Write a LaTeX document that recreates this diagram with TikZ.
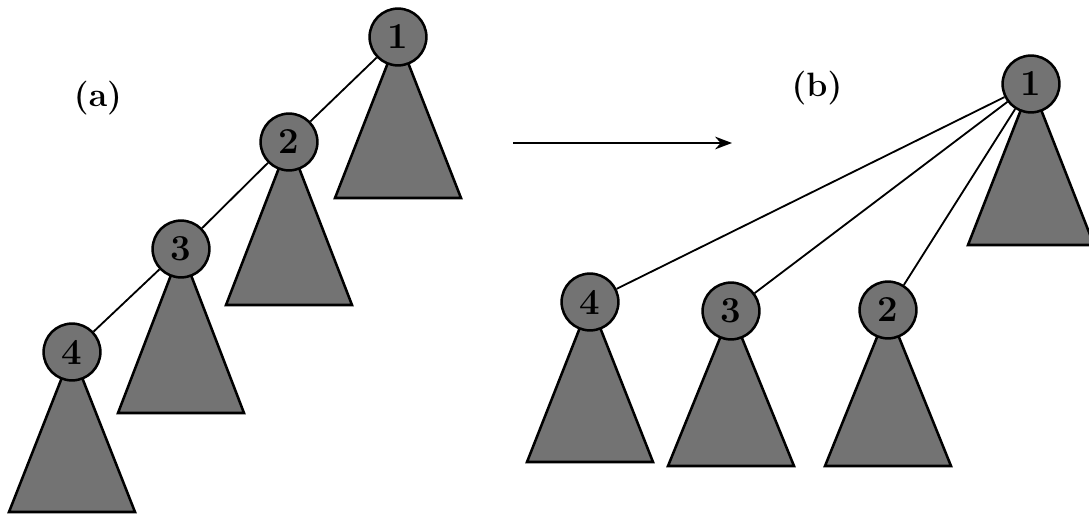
\documentclass[tikz,border=0pt]{standalone}
\usepackage{tikz}
\usetikzlibrary{arrows.meta, backgrounds}
\tikzset{
  vertex/.style={circle, minimum size=1.42cm, inner sep=0pt, draw=black, line width=1.8pt, fill=black!55, font=\fontsize{26}{30}\selectfont\bfseries},
  subtree/.style={draw=black, line width=1.8pt, fill=black!55, line join=miter},
  link/.style={line width=1.3pt},
  arrow/.style={line width=1.7pt,-{Stealth[length=12pt,width=9pt]}},
  caption/.style={font=\fontsize{24}{28}\selectfont\bfseries}
}

\begin{document}
\begin{tikzpicture}[x=0.025cm, y=-0.025cm]
\useasboundingbox (0,0) rectangle (1089,518);

% (a): the chain
\node[caption] (capa) at (98,98) {(a)};
\node[vertex] (a1) at (398,37) {1};
\node[vertex] (a2) at (289,142) {2};
\node[vertex] (a3) at (181,249) {3};
\node[vertex] (a4) at (72,352) {4};

\draw[link] (a1) -- (a2);
\draw[link] (a2) -- (a3);
\draw[link] (a3) -- (a4);

\node[caption] (capb) at (817,88) {(b)};
\coordinate (from) at (513,143);
\coordinate (to) at (732,143);
\draw[arrow] (from) -- (to);

% (b): after the rotation
\node[vertex] (b1) at (1031,84) {1};
\node[vertex] (b4) at (590,302) {4};
\node[vertex] (b3) at (731,311) {3};
\node[vertex] (b2) at (888,310) {2};

\draw[link] (b1) -- (b4);
\draw[link] (b1) -- (b3);
\draw[link] (b1) -- (b2);

\begin{scope}[on background layer]
\foreach \v/\h in {a1/161, a2/163, a3/164, a4/160, b1/161, b4/160, b3/155, b2/156}
  \draw[subtree] (\v.center) -- ++(-63,\h) -- ++(126,0) -- cycle;
\end{scope}
\end{tikzpicture}
\end{document}
